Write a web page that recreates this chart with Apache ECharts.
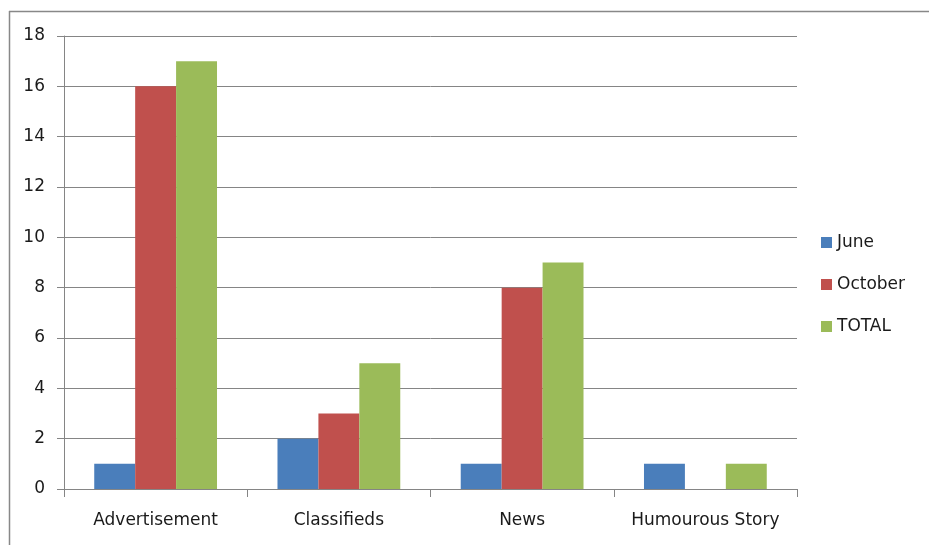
<!DOCTYPE html>
<html>
<head>
<meta charset="utf-8">
<script src="https://cdn.jsdelivr.net/npm/echarts@6/dist/echarts.min.js"></script>
<style>html,body{margin:0;padding:0;background:#fff;}#c{width:929px;height:545px;}</style>
</head>
<body>
<div id="c"></div>
<script>
var categories = ['Advertisement', 'Classifieds', 'News', 'Humourous Story'];
var juneValues = [1, 2, 1, 1];
var octoberValues = [16, 3, 8, 0];
var totalValues = [17, 5, 9, 1];
var yTicks = [0, 2, 4, 6, 8, 10, 12, 14, 16, 18];

var chart = echarts.init(document.getElementById('c'), null, {renderer: 'canvas'});
var font = 'DejaVu Sans';
var grey = '#858585';
chart.setOption({
  animation: false,
  backgroundColor: '#fff',
  graphic: [
    {type: 'line', shape: {x1: 9, y1: 11.5, x2: 929, y2: 11.5}, style: {stroke: '#888', lineWidth: 1.5}},
    {type: 'line', shape: {x1: 9.5, y1: 11, x2: 9.5, y2: 545}, style: {stroke: '#888', lineWidth: 1.5}}
  ],
  grid: {left: 64, top: 36, right: 132, bottom: 56, containLabel: false},
  legend: {
    orient: 'vertical', left: 816, top: 229,
    itemWidth: 11, itemHeight: 11, itemGap: 25,
    icon: 'rect',
    textStyle: {fontFamily: font, fontSize: 17, color: '#1a1a1a', padding: [0, 0, 0, 0]},
    data: ['June', 'October', 'TOTAL']
  },
  xAxis: {
    type: 'category', data: categories,
    axisLine: {lineStyle: {color: grey, width: 1}},
    axisTick: {show: true, length: 8, interval: 0, lineStyle: {color: grey}},
    axisLabel: {fontFamily: font, fontSize: 17, color: '#1a1a1a', margin: 23, interval: 0, hideOverlap: false}
  },
  yAxis: {
    type: 'value', min: yTicks[0], max: yTicks[yTicks.length - 1], interval: 2,
    axisLine: {show: true, lineStyle: {color: grey, width: 1}},
    axisTick: {show: true, length: 7, lineStyle: {color: grey}},
    splitLine: {lineStyle: {color: grey, width: 1}},
    axisLabel: {fontFamily: font, fontSize: 17, color: '#1a1a1a', margin: 19}
  },
  series: [
    {name: 'June', type: 'bar', data: juneValues, itemStyle: {color: '#4A7EBB'}, barGap: '0%', barCategoryGap: '33%'},
    {name: 'October', type: 'bar', data: octoberValues, itemStyle: {color: '#C0504D'}, barGap: '0%', barCategoryGap: '33%'},
    {name: 'TOTAL', type: 'bar', data: totalValues, itemStyle: {color: '#9BBB59'}, barGap: '0%', barCategoryGap: '33%'}
  ]
});
</script>
</body>
</html>
